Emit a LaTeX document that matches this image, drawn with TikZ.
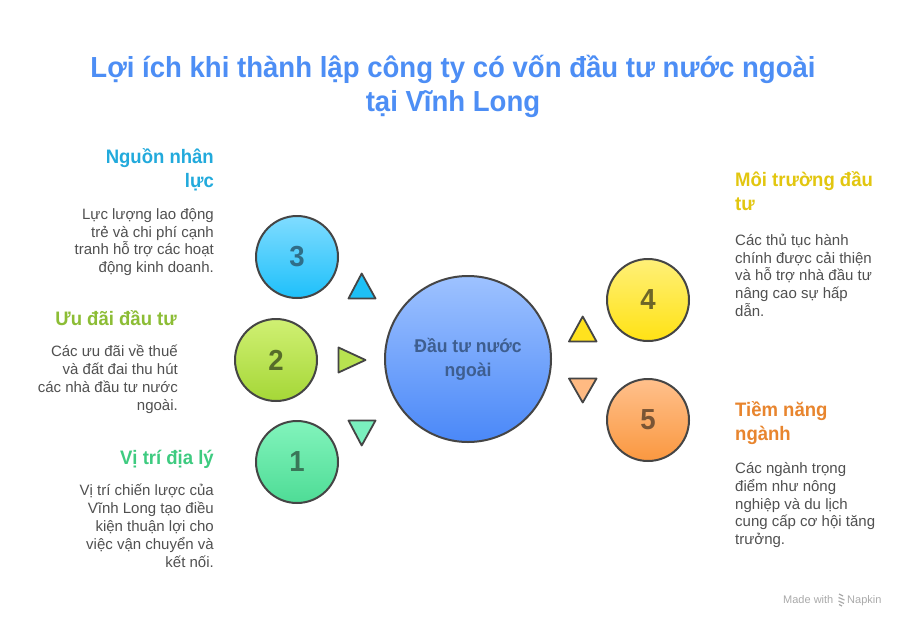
\documentclass[tikz,border=0pt]{standalone}
\usepackage{fontspec}
\setmainfont{Liberation Sans}[BoldFeatures={FakeStretch=0.95}]
\definecolor{edge}{HTML}{454545}
\definecolor{titleblue}{HTML}{4D8EF5}
\definecolor{bodygray}{HTML}{505050}
\definecolor{hcyan}{HTML}{22AADC}
\definecolor{holive}{HTML}{8CBD35}
\definecolor{hgreen}{HTML}{3ECB80}
\definecolor{hyellow}{HTML}{E2C60F}
\definecolor{horange}{HTML}{E8852E}
\definecolor{coretop}{RGB}{158,194,255}
\definecolor{corebot}{RGB}{74,136,248}
\definecolor{coretxt}{RGB}{62,94,143}
\definecolor{ctop3}{RGB}{128,220,255}
\definecolor{cbot3}{RGB}{30,192,250}
\definecolor{ctxt3}{RGB}{48,110,136}
\definecolor{ctop2}{RGB}{208,240,115}
\definecolor{cbot2}{RGB}{165,215,55}
\definecolor{ctxt2}{RGB}{86,108,42}
\definecolor{ctop1}{RGB}{130,244,188}
\definecolor{cbot1}{RGB}{78,220,150}
\definecolor{ctxt1}{RGB}{58,118,88}
\definecolor{ctop4}{RGB}{255,240,120}
\definecolor{cbot4}{RGB}{255,226,20}
\definecolor{ctxt4}{RGB}{110,102,40}
\definecolor{ctop5}{RGB}{255,192,140}
\definecolor{cbot5}{RGB}{250,152,64}
\definecolor{ctxt5}{RGB}{122,85,53}
\definecolor{tf3}{RGB}{30,192,245}
\definecolor{tf2}{RGB}{184,226,80}
\definecolor{tf1}{RGB}{122,240,190}
\definecolor{tf4}{RGB}{255,226,30}
\definecolor{tf5}{RGB}{255,186,130}
\definecolor{wm}{RGB}{170,170,170}
\newcommand\myTopStrut{\rule{0pt}{22pt}}
\begin{document}
\begin{tikzpicture}[x=1pt,y=-1pt,
  numcirc/.style={circle, draw=edge, line width=2pt, minimum size=82pt, inner sep=0pt,
    font=\fontsize{29}{29}\selectfont\bfseries},
  tri/.style={draw=edge, line width=1.8pt, line join=round},
  head/.style={inner sep=0pt, font=\fontsize{19.5}{23.5}\selectfont\bfseries},
  body/.style={inner sep=0pt, font=\fontsize{15}{17.8}\selectfont, text=bodygray},
  rbox/.style={align=right, anchor=north east},
  lbox/.style={align=left, anchor=north west}]
\useasboundingbox (0,0) rectangle (912,624);
\fill[white] (0,0) rectangle (912,624);

% title
\node[inner sep=0pt, align=center, anchor=north, text=titleblue,
  font=\fontsize{29}{34}\selectfont\bfseries] (title) at (453,77-22)
  {\myTopStrut Lợi ích khi thành lập công ty có vốn đầu tư nước ngoài\\tại Vĩnh Long};

% central circle
\node[circle, draw=edge, line width=2pt, minimum size=166pt, inner sep=0pt,
  top color=coretop, bottom color=corebot,
  align=center, text=coretxt,
  font=\fontsize{18.5}{24}\selectfont\bfseries] (core) at (468,359)
  {Đầu tư nước\\ngoài};

% numbered circles
\node[numcirc, top color=ctop3, bottom color=cbot3, text=ctxt3] (c3) at (297,257) {3};
\node[numcirc, top color=ctop2, bottom color=cbot2, text=ctxt2] (c2) at (276,360) {2};
\node[numcirc, top color=ctop1, bottom color=cbot1, text=ctxt1] (c1) at (297,462) {1};
\node[numcirc, top color=ctop4, bottom color=cbot4, text=ctxt4] (c4) at (648,300) {4};
\node[numcirc, top color=ctop5, bottom color=cbot5, text=ctxt5] (c5) at (648,420) {5};

% triangles
\coordinate (t3a) at (361.7,273.5);
\coordinate (t3b) at (348.5,298.5);
\coordinate (t3c) at (375.5,298.5);
\path[tri, fill=tf3] (t3a) -- (t3b) -- (t3c) -- cycle;
\coordinate (t2a) at (365.5,360);
\coordinate (t2b) at (338.5,347.5);
\coordinate (t2c) at (338.5,372.5);
\path[tri, fill=tf2] (t2a) -- (t2b) -- (t2c) -- cycle;
\coordinate (t1a) at (361.7,445.5);
\coordinate (t1b) at (348.5,420.5);
\coordinate (t1c) at (375.5,420.5);
\path[tri, fill=tf1] (t1a) -- (t1b) -- (t1c) -- cycle;
\coordinate (t4a) at (582.7,316.5);
\coordinate (t4b) at (569,341.5);
\coordinate (t4c) at (596.5,341.5);
\path[tri, fill=tf4] (t4a) -- (t4b) -- (t4c) -- cycle;
\coordinate (t5a) at (582.7,402.5);
\coordinate (t5b) at (569,378.5);
\coordinate (t5c) at (596.5,378.5);
\path[tri, fill=tf5] (t5a) -- (t5b) -- (t5c) -- cycle;

% left texts
\node[head, rbox, text=hcyan] (h3) at (214,163.3-22) {\myTopStrut Nguồn nhân\\lực};
\node[body, rbox] (b3) at (214,219-22)
  {\myTopStrut Lực lượng lao động\\trẻ và chi phí cạnh\\tranh hỗ trợ các hoạt\\động kinh doanh.};
\node[head, rbox, text=holive] (h2) at (177,325-22) {\myTopStrut Ưu đãi đầu tư};
\node[body, rbox] (b2) at (178,356.7-22)
  {\myTopStrut Các ưu đãi về thuế\\và đất đai thu hút\\các nhà đầu tư nước\\ngoài.};
\node[head, rbox, text=hgreen] (h1) at (214,464-22) {\myTopStrut Vị trí địa lý};
\node[body, rbox] (b1) at (214,495.7-22)
  {\myTopStrut Vị trí chiến lược của\\Vĩnh Long tạo điều\\kiện thuận lợi cho\\việc vận chuyển và\\kết nối.};

% right texts
\node[head, lbox, text=hyellow] (h4) at (735,186.7-22) {\myTopStrut Môi trường đầu\\tư};
\node[body, lbox] (b4) at (735,245-22)
  {\myTopStrut Các thủ tục hành\\chính được cải thiện\\và hỗ trợ nhà đầu tư\\nâng cao sự hấp\\dẫn.};
\node[head, lbox, text=horange] (h5) at (735,416.7-22) {\myTopStrut Tiềm năng\\ngành};
\node[body, lbox] (b5) at (735,473.3-22)
  {\myTopStrut Các ngành trọng\\điểm như nông\\nghiệp và du lịch\\cung cấp cơ hội tăng\\trưởng.};

% watermark
\node[inner sep=0pt, anchor=base west, text=wm,
  font=\fontsize{11}{11}\selectfont] (made) at (783,603.7) {Made with};
\node[inner sep=0pt, anchor=base west, text=wm,
  font=\fontsize{11}{11}\selectfont] (napkin) at (847,603.7) {Napkin};
\draw[line width=1.2pt, wm]
  (839,594) -- (843,596) (838.5,597.5) -- (844.5,600) (838.5,601) -- (844,603.5) (839,604.5) -- (842,606);
\end{tikzpicture}
\end{document}
